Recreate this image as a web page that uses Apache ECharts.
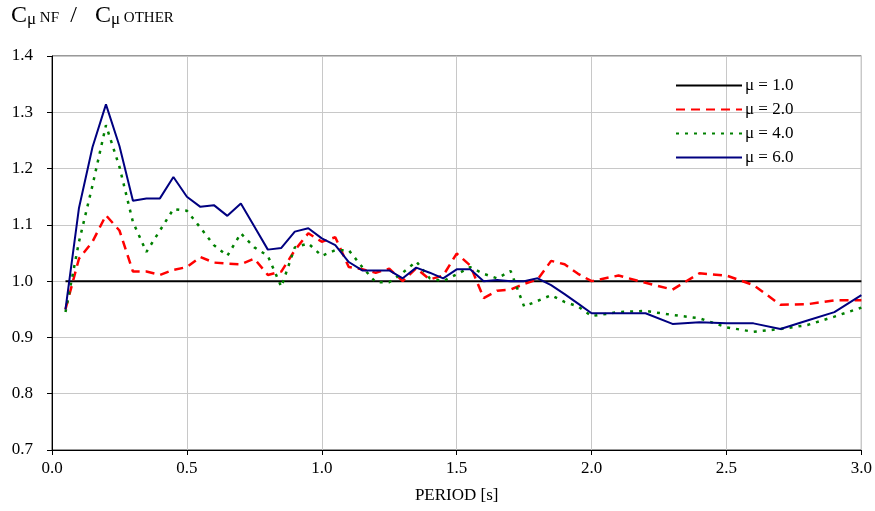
<!DOCTYPE html>
<html>
<head>
<meta charset="utf-8">
<script src="https://cdn.jsdelivr.net/npm/echarts@6/dist/echarts.min.js"></script>
<style>
  html, body { margin: 0; padding: 0; background: #fff; }
  #main { width: 875px; height: 511px; }
</style>
</head>
<body>
<div id="main"></div>
<script>
var periods = [
  0.05, 0.10, 0.15, 0.20, 0.25, 0.30, 0.35, 0.40, 0.45, 0.50,
  0.55, 0.60, 0.65, 0.70, 0.75, 0.80, 0.85, 0.90, 0.95, 1.00,
  1.05, 1.10, 1.15, 1.20, 1.25, 1.30, 1.35, 1.40, 1.45, 1.50,
  1.55, 1.60, 1.65, 1.70, 1.75, 1.80, 1.85, 1.90, 1.95, 2.00,
  2.1, 2.2, 2.3, 2.4, 2.5, 2.6, 2.7, 2.8, 2.9, 3.0
];
var refPeriods = [0.05, 3.0];
var mu1 = [1.0, 1.0];
var mu2 = [
  0.95, 1.04, 1.07, 1.117, 1.09, 1.017, 1.017, 1.011, 1.02, 1.025,
  1.043, 1.033, 1.031, 1.03, 1.04, 1.011, 1.017, 1.055, 1.085, 1.07,
  1.078, 1.025, 1.021, 1.015, 1.022, 1.0, 1.023, 1.003, 1.01, 1.049,
  1.028, 0.97, 0.983, 0.985, 0.995, 1.003, 1.036, 1.03, 1.013, 1.0,
  1.01, 0.997, 0.985, 1.014, 1.01, 0.993, 0.958, 0.959, 0.966, 0.966
];
var mu4 = [
  0.945, 1.07, 1.17, 1.277, 1.203, 1.105, 1.052, 1.09, 1.128, 1.125,
  1.095, 1.064, 1.045, 1.085, 1.06, 1.045, 0.99, 1.06, 1.067, 1.045,
  1.055, 1.055, 1.025, 0.998, 0.998, 1.015, 1.035, 1.005, 1.0, 1.012,
  1.025, 1.013, 1.005, 1.018, 0.955, 0.965, 0.975, 0.963, 0.955, 0.938,
  0.945, 0.947, 0.94, 0.934, 0.918, 0.91, 0.915, 0.922, 0.937, 0.953
];
var mu6 = [
  0.95, 1.13, 1.238, 1.314, 1.24, 1.143, 1.147, 1.147, 1.185, 1.15,
  1.132, 1.135, 1.116, 1.138, 1.097, 1.056, 1.059, 1.088, 1.094, 1.076,
  1.064, 1.034, 1.019, 1.019, 1.019, 1.005, 1.024, 1.015, 1.005, 1.021,
  1.021, 1.0, 1.002, 1.0, 1.0, 1.005, 0.993, 0.977, 0.96, 0.943,
  0.943, 0.943, 0.924, 0.927, 0.925, 0.925, 0.915, 0.93, 0.945, 0.975
];
var xTicks = ['0.0', '0.5', '1.0', '1.5', '2.0', '2.5', '3.0'];

function pairs(xs, ys) {
  return xs.map(function (x, i) { return [x, ys[i]]; });
}

var serif = '"Liberation Serif", "DejaVu Serif", serif';
var chart = echarts.init(document.getElementById('main'));

var option = {
  animation: false,
  textStyle: { fontFamily: serif, color: '#000' },
  graphic: [{
    type: 'text',
    left: 11,
    top: 4,
    style: {
      text: '{c|C}{s|μ}{n| NF   }{c|/   C}{s|μ}{n| OTHER}',
      rich: {
        c: { fontFamily: serif, fontSize: 24, fill: '#000', verticalAlign: 'bottom' },
        s: { fontFamily: serif, fontSize: 17, fill: '#000', padding: [9, 0, 0, 0] },
        n: { fontFamily: serif, fontSize: 15, fill: '#000', padding: [7, 0, 0, 0] }
      }
    }
  }],
  legend: {
    orient: 'vertical',
    left: 670,
    top: 72,
    itemWidth: 66,
    itemHeight: 12,
    itemGap: 7,
    itemStyle: { opacity: 0 },
    textStyle: { fontFamily: serif, fontSize: 17, color: '#000', padding: [0, 0, 0, -2] },
    data: ['μ = 1.0', 'μ = 2.0', 'μ = 4.0', 'μ = 6.0']
  },
  grid: {
    left: 52,
    right: 13,
    top: 56,
    bottom: 61,
    show: true,
    borderColor: '#333',
    borderWidth: 1
  },
  xAxis: {
    type: 'value',
    min: 0,
    max: 3,
    interval: 0.5,
    name: 'PERIOD [s]',
    nameLocation: 'middle',
    nameGap: 37,
    nameTextStyle: { fontFamily: serif, fontSize: 17, color: '#000' },
    axisLine: { lineStyle: { color: '#000', width: 1 } },
    axisTick: { show: true, length: 5, lineStyle: { color: '#000' } },
    axisLabel: {
      fontFamily: serif, fontSize: 17, color: '#000', margin: 10,
      formatter: function (v) { return xTicks[Math.round(v / 0.5)]; }
    },
    splitLine: { show: true, lineStyle: { color: '#c8c8c8', width: 1 } }
  },
  yAxis: {
    type: 'value',
    min: 0.7,
    max: 1.4,
    interval: 0.1,
    axisLine: { show: true, lineStyle: { color: '#000', width: 1 } },
    axisTick: { show: true, length: 5, lineStyle: { color: '#000' } },
    axisLabel: {
      fontFamily: serif, fontSize: 17, color: '#000', margin: 19,
      formatter: function (v) { return v.toFixed(1); }
    },
    splitLine: { show: true, lineStyle: { color: '#c8c8c8', width: 1 } }
  },
  series: [
    {
      name: 'μ = 1.0',
      type: 'line',
      symbol: 'none',
      data: pairs(refPeriods, mu1),
      lineStyle: { color: '#000', width: 2 },
      itemStyle: { color: '#000' },
      z: 3
    },
    {
      name: 'μ = 2.0',
      type: 'line',
      symbol: 'none',
      data: pairs(periods, mu2),
      lineStyle: { color: '#ff0000', width: 2.5, type: [9, 6] },
      itemStyle: { color: '#ff0000' },
      z: 4
    },
    {
      name: 'μ = 4.0',
      type: 'line',
      symbol: 'none',
      data: pairs(periods, mu4),
      lineStyle: { color: '#008000', width: 2.5, type: [3, 6] },
      itemStyle: { color: '#008000' },
      z: 5
    },
    {
      name: 'μ = 6.0',
      type: 'line',
      symbol: 'none',
      data: pairs(periods, mu6),
      lineStyle: { color: '#000080', width: 2 },
      itemStyle: { color: '#000080' },
      z: 6
    }
  ]
};

chart.setOption(option);
</script>
</body>
</html>
